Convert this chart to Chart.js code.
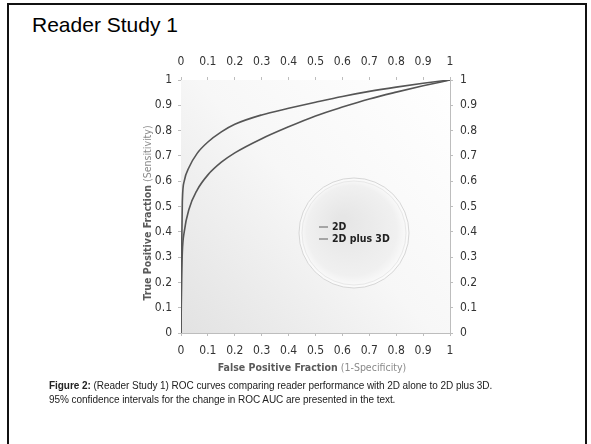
<!DOCTYPE html>
<html>
<head>
<meta charset="utf-8">
<script src="https://cdn.jsdelivr.net/npm/chart.js@4.4.1/dist/chart.umd.min.js"></script>
<style>
  html, body { margin: 0; padding: 0; background: #fff; }
  body { width: 591px; height: 444px; position: relative; overflow: hidden; font-family: "Liberation Sans", Arial, sans-serif; }
  .frame { position: absolute; left: 7px; top: 3px; width: 576px; height: 460px; border: 2px solid #111; border-bottom: none; }
  h1 { position: absolute; left: 32px; top: 14px; margin: 0; font-weight: normal; font-size: 21px; line-height: 1; color: #000; }
  #chartBox { position: absolute; left: 0; top: 0; width: 591px; height: 444px; }
  .caption { position: absolute; left: 49px; top: 379px; font-size: 10px; line-height: 13.5px; color: #222; white-space: nowrap; letter-spacing: -0.05px; }
</style>
</head>
<body>
<div class="frame"></div>
<h1>Reader Study 1</h1>
<div id="chartBox"><canvas id="roc" width="591" height="444"></canvas></div>
<div class="caption"><b>Figure 2:</b> (Reader Study 1) ROC curves comparing reader performance with 2D alone to 2D plus 3D.<br>95% confidence intervals for the change in ROC AUC are presented in the text.</div>

<script>
// false positive fraction sample points (shared by both curves)
const fprValues = [0, 0.002, 0.005, 0.012, 0.03, 0.06, 0.1, 0.15, 0.2, 0.3, 0.4, 0.5, 0.6, 0.7, 0.8, 0.9, 1];
// true positive fraction, 2D alone
const tpr2D = [0, 0.2, 0.32, 0.4, 0.49, 0.565, 0.625, 0.675, 0.712, 0.768, 0.815, 0.858, 0.893, 0.925, 0.952, 0.977, 1];
// true positive fraction, 2D plus 3D
const tpr2DPlus3D = [0, 0.3, 0.52, 0.6, 0.655, 0.71, 0.755, 0.795, 0.825, 0.862, 0.888, 0.912, 0.935, 0.955, 0.972, 0.987, 1];
const seriesLabels = ['2D', '2D plus 3D'];
const tickValues = [0, 0.1, 0.2, 0.3, 0.4, 0.5, 0.6, 0.7, 0.8, 0.9, 1];
const xTitle = ['False Positive Fraction', ' (1-Specificity)'];
const yTitle = ['True Positive Fraction', ' (Sensitivity)'];

const toPoints = (ys) => fprValues.map((x, i) => ({ x: x, y: ys[i] }));

const narrow = '"Liberation Sans Narrow", "DejaVu Sans Condensed", sans-serif';
const tickFont = { family: narrow, size: 12 };
const fmt = (v) => String(Number(v.toFixed(1)));

function makeAxis(position, size, pad) {
    return {
        type: 'linear',
        position: position,
        min: 0,
        max: 1,
        afterBuildTicks: (scale) => { scale.ticks = tickValues.map(v => ({ value: v })); },
        afterFit: (scale) => {
            if (position === 'top' || position === 'bottom') scale.height = size;
            else scale.width = size;
        },
        ticks: { color: '#333', font: tickFont, padding: pad, maxRotation: 0, autoSkip: false, callback: fmt },
        grid: { drawOnChartArea: false, tickLength: 3, color: '#bdbdbd' },
        border: { color: '#bdbdbd', width: 1 }
    };
}

// background shading, legend bubble and two-tone axis titles
const decor = {
    id: 'decor',
    beforeDatasetsDraw(chart) {
        const { ctx, chartArea: a } = chart;
        ctx.save();
        const g = ctx.createLinearGradient(a.left, a.bottom, a.right, a.top);
        g.addColorStop(0, '#e2e2e2');
        g.addColorStop(0.5, '#f7f7f7');
        g.addColorStop(1, '#ffffff');
        ctx.fillStyle = g;
        ctx.fillRect(a.left, a.top, a.right - a.left, a.bottom - a.top);

        // legend bubble
        const cx = 354, cy = 233, r = 55;
        const rg = ctx.createRadialGradient(cx - 12, cy - 12, 5, cx, cy, r);
        rg.addColorStop(0, '#e6e6e6');
        rg.addColorStop(0.8, '#f0f0f0');
        rg.addColorStop(1, '#fcfcfc');
        ctx.fillStyle = rg;
        ctx.beginPath();
        ctx.arc(cx, cy, r, 0, Math.PI * 2);
        ctx.fill();
        ctx.strokeStyle = '#d6d6d6';
        ctx.lineWidth = 1;
        ctx.beginPath();
        ctx.arc(cx, cy, r, 0, Math.PI * 2);
        ctx.stroke();
        ctx.strokeStyle = '#e8e8e8';
        ctx.beginPath();
        ctx.arc(cx, cy, r - 3, 0, Math.PI * 2);
        ctx.stroke();
        ctx.restore();
    },
    afterDraw(chart) {
        const { ctx, chartArea: a } = chart;
        ctx.save();
        // legend entries
        ctx.font = 'bold 10.5px ' + narrow;
        ctx.textBaseline = 'middle';
        chart.data.datasets.forEach((ds, i) => {
            const y = 227 + i * 12;
            ctx.strokeStyle = '#777';
            ctx.lineWidth = 1.2;
            ctx.beginPath();
            ctx.moveTo(319, y);
            ctx.lineTo(328, y);
            ctx.stroke();
            ctx.fillStyle = '#222';
            ctx.textAlign = 'left';
            ctx.fillText(ds.label, 332, y);
        });

        const drawTitle = (parts, cx, cy, rot) => {
            const f1 = 'bold 10.5px ' + narrow;
            const f2 = '10.5px ' + narrow;
            ctx.font = f1; const w1 = ctx.measureText(parts[0]).width;
            ctx.font = f2; const w2 = ctx.measureText(parts[1]).width;
            ctx.save();
            ctx.translate(cx, cy);
            ctx.rotate(rot);
            ctx.textAlign = 'left';
            ctx.textBaseline = 'middle';
            const x0 = -(w1 + w2) / 2;
            ctx.font = f1; ctx.fillStyle = '#5a5a5a'; ctx.fillText(parts[0], x0, 0);
            ctx.font = f2; ctx.fillStyle = '#8a8a8a'; ctx.fillText(parts[1], x0 + w1, 0);
            ctx.restore();
        };
        drawTitle(xTitle, 312, 368, 0);
        drawTitle(yTitle, 148, 213, -Math.PI / 2);
        ctx.restore();
    }
};

new Chart(document.getElementById('roc'), {
    type: 'line',
    data: {
        datasets: [
            { label: seriesLabels[0], data: toPoints(tpr2D), xAxisID: 'x', yAxisID: 'y' },
            { label: seriesLabels[1], data: toPoints(tpr2DPlus3D), xAxisID: 'x', yAxisID: 'y' }
        ].map(ds => Object.assign(ds, {
            borderColor: '#555',
            borderWidth: 1.6,
            pointRadius: 0,
            fill: false,
            cubicInterpolationMode: 'monotone'
        }))
    },
    options: {
        responsive: false,
        animation: false,
        layout: { padding: 0 },
        plugins: { legend: { display: false }, tooltip: { enabled: false } },
        scales: {
            x: makeAxis('bottom', 111, 8),
            x2: makeAxis('top', 80, 8),
            y: makeAxis('left', 181, 6),
            y2: makeAxis('right', 141, 7)
        }
    },
    plugins: [decor]
});
</script>
</body>
</html>
